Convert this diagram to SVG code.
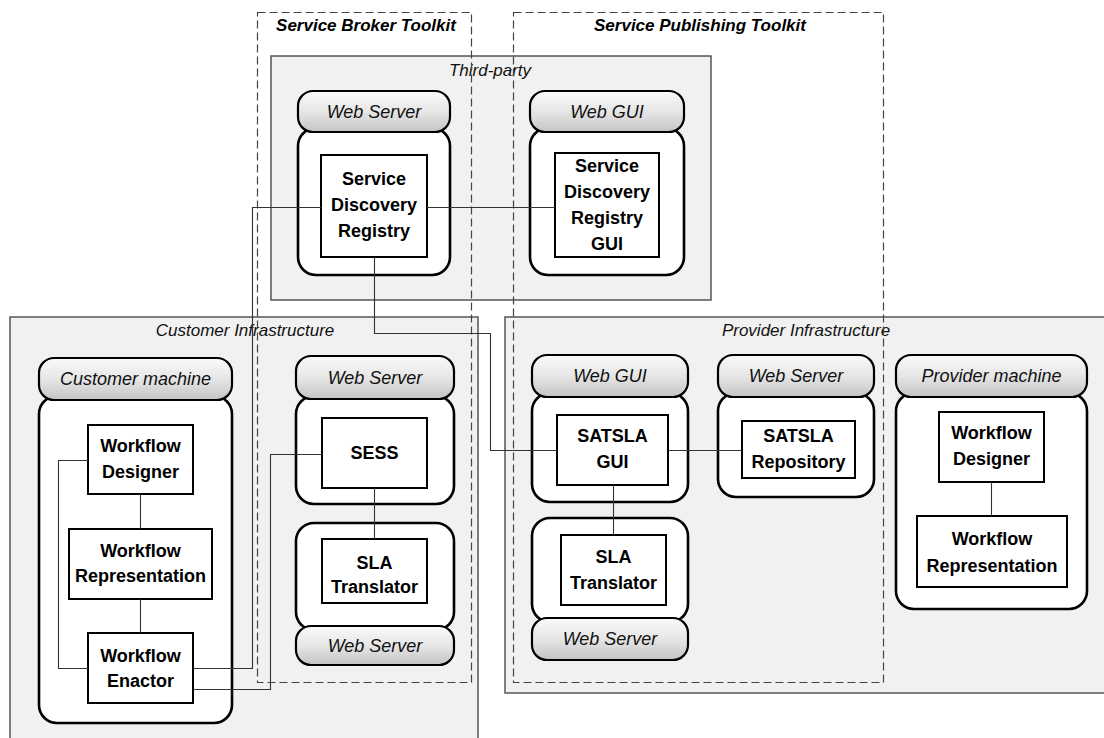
<svg xmlns="http://www.w3.org/2000/svg" width="1104" height="738" viewBox="0 0 1104 738">
<defs>
<linearGradient id="hg" x1="0" y1="0" x2="0" y2="1">
<stop offset="0" stop-color="#fafafa"/>
<stop offset="0.5" stop-color="#e6e6e6"/>
<stop offset="1" stop-color="#c4c4c4"/>
</linearGradient>
</defs>
<style>
.area{fill:#f1f1f1;stroke:#555;stroke-width:1.5}
.tk{fill:none;stroke:#444;stroke-width:1.2;stroke-dasharray:8,4}
.hdr{fill:url(#hg);stroke:#000;stroke-width:2.2}
.body{fill:#fff;stroke:#000;stroke-width:2.6}
.box{fill:#fff;stroke:#000;stroke-width:2}
.lbl{font-family:"Liberation Sans",Arial,sans-serif;font-weight:bold;font-size:18px;fill:#000;text-anchor:middle}
.ht{font-family:"Liberation Sans",Arial,sans-serif;font-style:italic;font-size:18px;fill:#111;text-anchor:middle}
.at{font-family:"Liberation Sans",Arial,sans-serif;font-style:italic;font-size:17px;fill:#111;text-anchor:middle}
.tt{font-family:"Liberation Sans",Arial,sans-serif;font-style:italic;font-weight:bold;font-size:17px;fill:#000;text-anchor:middle}
.cn{fill:none;stroke:#333;stroke-width:1.1}
</style>
<rect width="1104" height="738" fill="#fff"/>

<g id="third-party">
<rect class="area" x="271" y="56" width="440" height="244"/>
<text class="at" x="490" y="76">Third-party</text>
</g>
<g id="customer-infrastructure">
<rect class="area" x="10" y="317" width="468" height="430"/>
<text class="at" x="245" y="336">Customer Infrastructure</text>
</g>
<g id="provider-infrastructure">
<rect class="area" x="505" y="317" width="610" height="376"/>
<text class="at" x="806" y="336">Provider Infrastructure</text>
</g>

<g id="service-broker-toolkit">
<rect class="tk" x="257.5" y="12.5" width="214" height="670"/>
<text class="tt" x="366" y="31">Service Broker Toolkit</text>
</g>
<g id="service-publishing-toolkit">
<rect class="tk" x="513.5" y="12.5" width="370" height="670"/>
<text class="tt" x="700" y="31">Service Publishing Toolkit</text>
</g>

<g id="tp-webserver">
<rect class="body" x="298" y="128" width="152" height="147" rx="18"/>
<rect class="hdr" x="298" y="91" width="152" height="41" rx="15"/>
<text class="ht" x="374" y="118">Web Server</text>
</g>
<g id="service-discovery-registry">
<rect class="box" x="321" y="155" width="106" height="102"/>
<text class="lbl" x="374" y="185">Service</text>
<text class="lbl" x="374" y="211">Discovery</text>
<text class="lbl" x="374" y="237">Registry</text>
</g>
<g id="tp-webgui">
<rect class="body" x="530" y="128" width="154" height="147" rx="18"/>
<rect class="hdr" x="530" y="91" width="154" height="41" rx="15"/>
<text class="ht" x="607" y="118">Web GUI</text>
</g>
<g id="service-discovery-registry-gui">
<rect class="box" x="555" y="153" width="104" height="104"/>
<text class="lbl" x="607" y="172">Service</text>
<text class="lbl" x="607" y="198">Discovery</text>
<text class="lbl" x="607" y="224">Registry</text>
<text class="lbl" x="607" y="250">GUI</text>
</g>

<g id="customer-machine">
<rect class="body" x="39" y="396" width="193" height="327" rx="18"/>
<rect class="hdr" x="39" y="358" width="193" height="42" rx="15"/>
<text class="ht" x="135.5" y="385">Customer machine</text>
</g>
<g id="c-workflow-designer">
<rect class="box" x="88" y="425" width="105" height="69"/>
<text class="lbl" x="140.5" y="452">Workflow</text>
<text class="lbl" x="140.5" y="478">Designer</text>
</g>
<g id="c-workflow-representation">
<rect class="box" x="69" y="529" width="143" height="70"/>
<text class="lbl" x="140.5" y="557">Workflow</text>
<text class="lbl" x="140.5" y="582">Representation</text>
</g>
<g id="c-workflow-enactor">
<rect class="box" x="88" y="633" width="105" height="70"/>
<text class="lbl" x="140.5" y="662">Workflow</text>
<text class="lbl" x="140.5" y="687">Enactor</text>
</g>

<g id="c-webserver">
<rect class="body" x="296" y="396" width="158" height="108" rx="18"/>
<rect class="hdr" x="296" y="356" width="158" height="43" rx="15"/>
<text class="ht" x="375" y="384">Web Server</text>
</g>
<g id="sess">
<rect class="box" x="322" y="418" width="105" height="70"/>
<text class="lbl" x="374.5" y="459">SESS</text>
</g>
<g id="c-sla-host">
<rect class="body" x="296" y="523" width="158" height="107" rx="18"/>
<rect class="hdr" x="296" y="626" width="158" height="39" rx="15"/>
<text class="ht" x="375" y="652">Web Server</text>
</g>
<g id="c-sla-translator">
<rect class="box" x="322" y="539" width="105" height="64"/>
<text class="lbl" x="374.5" y="569">SLA</text>
<text class="lbl" x="374.5" y="593">Translator</text>
</g>

<g id="p-webgui">
<rect class="body" x="532" y="393" width="156" height="109" rx="18"/>
<rect class="hdr" x="532" y="355" width="156" height="42" rx="15"/>
<text class="ht" x="610" y="382">Web GUI</text>
</g>
<g id="satsla-gui">
<rect class="box" x="557" y="415" width="111" height="70"/>
<text class="lbl" x="612.5" y="442">SATSLA</text>
<text class="lbl" x="612.5" y="468">GUI</text>
</g>
<g id="p-sla-host">
<rect class="body" x="532" y="518" width="156" height="104" rx="18"/>
<rect class="hdr" x="532" y="618" width="156" height="42" rx="15"/>
<text class="ht" x="610" y="645">Web Server</text>
</g>
<g id="p-sla-translator">
<rect class="box" x="561" y="535" width="105" height="70"/>
<text class="lbl" x="613.5" y="563">SLA</text>
<text class="lbl" x="613.5" y="589">Translator</text>
</g>

<g id="p-webserver">
<rect class="body" x="718" y="393" width="156" height="104" rx="18"/>
<rect class="hdr" x="718" y="355" width="156" height="42" rx="15"/>
<text class="ht" x="796" y="382">Web Server</text>
</g>
<g id="satsla-repository">
<rect class="box" x="742" y="421" width="113" height="57"/>
<text class="lbl" x="798.5" y="442">SATSLA</text>
<text class="lbl" x="798.5" y="468">Repository</text>
</g>

<g id="provider-machine">
<rect class="body" x="896" y="393" width="191" height="216" rx="18"/>
<rect class="hdr" x="896" y="355" width="191" height="42" rx="15"/>
<text class="ht" x="991.5" y="382">Provider machine</text>
</g>
<g id="p-workflow-designer">
<rect class="box" x="939" y="412" width="105" height="70"/>
<text class="lbl" x="991.5" y="439">Workflow</text>
<text class="lbl" x="991.5" y="465">Designer</text>
</g>
<g id="p-workflow-representation">
<rect class="box" x="917" y="516" width="150" height="71"/>
<text class="lbl" x="992" y="545">Workflow</text>
<text class="lbl" x="992" y="572">Representation</text>
</g>

<g id="connectors">
<path class="cn" d="M321,207.5 H252.5 V668.5 H193"/>
<path class="cn" d="M427,207.5 H555"/>
<path class="cn" d="M374.5,257 V333.5 H490.5 V450.5 H557"/>
<path class="cn" d="M88,460.5 H58.5 V668.5 H88"/>
<path class="cn" d="M140.5,494 V529"/>
<path class="cn" d="M140.5,599 V633"/>
<path class="cn" d="M322,454.5 H270.5 V689.5 H193"/>
<path class="cn" d="M374.5,488 V539"/>
<path class="cn" d="M613.5,485 V535"/>
<path class="cn" d="M668,450.5 H742"/>
<path class="cn" d="M991.5,482 V516"/>
</g>
</svg>
